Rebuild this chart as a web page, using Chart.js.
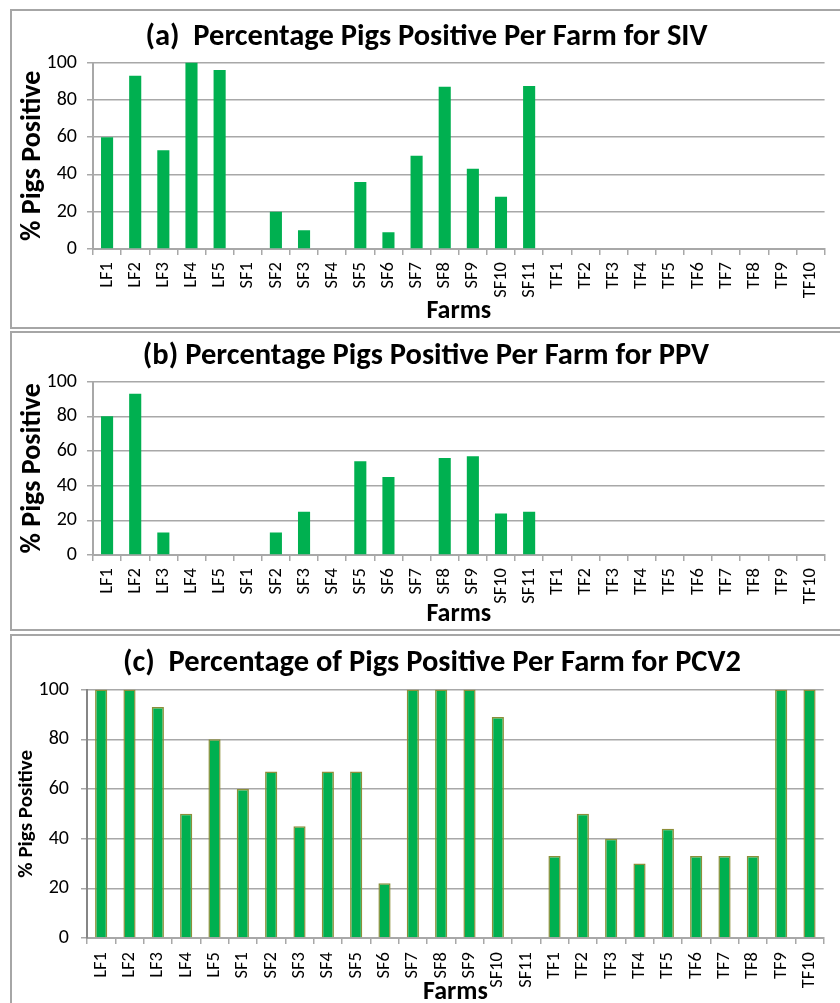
<!DOCTYPE html>
<html>
<head>
<meta charset="utf-8">
<script src="https://cdn.jsdelivr.net/npm/chart.js@4"></script>
<style>
  body { margin: 0; background: #fff; width: 840px; height: 1003px; overflow: hidden; position: relative; }
  .box { position: absolute; border: 2px solid #a6a6a6; box-sizing: border-box; background: #fff; }
  .box canvas { position: absolute; left: 0; top: 0; }
</style>
</head>
<body>
<div class="box" style="left:10px;top:9px;width:840px;height:320px;"><canvas id="chartA"></canvas></div>
<div class="box" style="left:10px;top:331px;width:840px;height:300px;"><canvas id="chartB"></canvas></div>
<div class="box" style="left:10px;top:634px;width:840px;height:380px;"><canvas id="chartC"></canvas></div>
<script>
var farms = ['LF1', 'LF2', 'LF3', 'LF4', 'LF5',
  'SF1', 'SF2', 'SF3', 'SF4', 'SF5', 'SF6', 'SF7', 'SF8', 'SF9', 'SF10', 'SF11',
  'TF1', 'TF2', 'TF3', 'TF4', 'TF5', 'TF6', 'TF7', 'TF8', 'TF9', 'TF10'];

var sivValues = [60, 93, 53, 100, 96, 0, 20, 10, 0, 36, 9, 50, 87, 43, 28, 87.5,
  0, 0, 0, 0, 0, 0, 0, 0, 0, 0];
var ppvValues = [80, 93, 13, 0, 0, 0, 13, 25, 0, 54, 45, 0, 56, 57, 24, 25,
  0, 0, 0, 0, 0, 0, 0, 0, 0, 0];
var pcv2Values = [100, 100, 93, 50, 80, 60, 67, 45, 67, 67, 22, 100, 100, 100, 89, 0,
  33, 50, 40, 30, 44, 33, 33, 33, 100, 100];

var yTicks = [0, 20, 40, 60, 80, 100];

var titles = [
  '(a)  Percentage Pigs Positive Per Farm for SIV',
  '(b) Percentage Pigs Positive Per Farm for PPV',
  '(c)  Percentage of Pigs Positive Per Farm for PCV2'
];

var FONT = 'Carlito, Lato, "Liberation Sans", sans-serif';
var GREEN = '#00b050';
var GRID = '#a8a8a8';

function makeChart(id, values, title, opt) {
  var canvas = document.getElementById(id);
  canvas.width = opt.w;
  canvas.height = opt.h;
  canvas.style.width = opt.w + 'px';
  canvas.style.height = opt.h + 'px';

  return new Chart(canvas.getContext('2d'), {
    type: 'bar',
    data: {
      labels: farms,
      datasets: [{
        label: '% Pigs Positive',
        data: values,
        backgroundColor: GREEN,
        borderColor: opt.barBorder,
        borderWidth: opt.barBorderWidth,
        borderSkipped: 'bottom',
        categoryPercentage: 1,
        barPercentage: 0.43
      }]
    },
    options: {
      responsive: false,
      animation: false,
      layout: { padding: { left: opt.padLeft, right: opt.padRight, top: 0, bottom: 0 } },
      plugins: {
        legend: { display: false },
        tooltip: { enabled: false },
        title: {
          display: true,
          text: title,
          color: '#000',
          font: { family: FONT, size: 30.5, weight: 'bold', lineHeight: 1.2 },
          padding: { top: opt.titleTop, bottom: opt.titleBottom }
        }
      },
      scales: {
        x: {
          afterFit: function(scale) { scale.height = opt.xHeight; },
          grid: {
            offset: true,
            drawOnChartArea: false,
            drawTicks: true,
            tickLength: 6,
            color: GRID,
            lineWidth: 1.5
          },
          border: { display: true, color: GRID, width: 2 },
          ticks: {
            color: '#000',
            minRotation: 90,
            maxRotation: 90,
            autoSkip: false,
            padding: opt.xTickPad,
            font: { family: FONT, size: 18.5 }
          },
          title: {
            display: true,
            text: 'Farms',
            color: '#000',
            font: { family: FONT, size: 26, weight: 'bold', lineHeight: 0.8 },
            padding: { top: 0, bottom: opt.farmsBottom }
          }
        },
        y: {
          min: 0,
          max: 100,
          afterFit: function(scale) { scale.width = opt.yWidth; },
          afterBuildTicks: function(scale) {
            scale.ticks = yTicks.map(function(v) { return { value: v }; });
          },
          grid: {
            color: GRID,
            lineWidth: 1.5,
            tickLength: 6
          },
          border: { display: true, color: opt.yAxisColor, width: 2 },
          ticks: {
            color: '#000',
            padding: opt.yTickPad,
            font: { family: FONT, size: 20 }
          },
          title: {
            display: true,
            text: '% Pigs Positive',
            color: '#000',
            font: { family: FONT, size: opt.yTitleSize, weight: 'bold', lineHeight: 1.2 },
            padding: { top: opt.yTitlePad, bottom: 0 }
          }
        }
      }
    }
  });
}

// (a) SIV
makeChart('chartA', sivValues, titles[0], {
  w: 828, h: 316, padLeft: 16, padRight: 15,
  titleTop: 8, titleBottom: 7,
  xHeight: 78, yWidth: 65, farmsBottom: 5, xTickPad: 7, yTickPad: 10,
  yTitleSize: 28, yTitlePad: -12, yAxisColor: GRID,
  barBorder: GREEN, barBorderWidth: 0
});

// (b) PPV
makeChart('chartB', ppvValues, titles[1], {
  w: 828, h: 296, padLeft: 15, padRight: 15,
  titleTop: 5, titleBottom: 7,
  xHeight: 74, yWidth: 66, farmsBottom: 4, xTickPad: 7, yTickPad: 10,
  yTitleSize: 28, yTitlePad: -11, yAxisColor: GRID,
  barBorder: GREEN, barBorderWidth: 0
});

// (c) PCV2
makeChart('chartC', pcv2Values, titles[2], {
  w: 828, h: 367, padLeft: 27, padRight: 15,
  titleTop: 9, titleBottom: 8,
  xHeight: 65, yWidth: 48, farmsBottom: 0.6, xTickPad: 8, yTickPad: 12,
  yTitleSize: 21, yTitlePad: -24.6, yAxisColor: '#868686',
  barBorder: '#8c8f3a', barBorderWidth: 1.5
});
</script>
</body>
</html>
